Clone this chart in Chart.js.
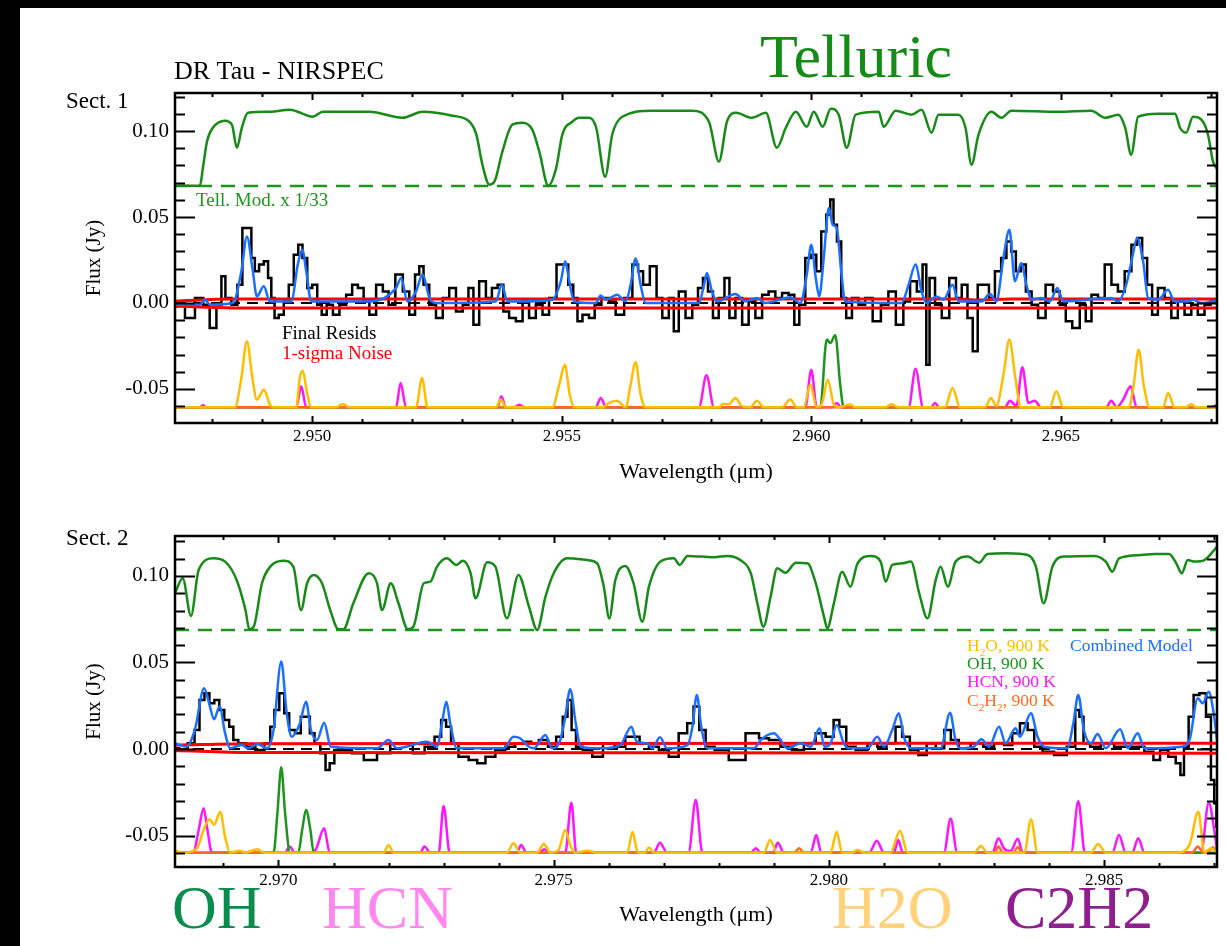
<!DOCTYPE html>
<html>
<head>
<meta charset="utf-8">
<script src="https://cdn.jsdelivr.net/npm/chart.js@4.4.1/dist/chart.umd.min.js"></script>
<style>
html, body { margin: 0; padding: 0; background: #fff; }
body { width: 1226px; height: 946px; position: relative; overflow: hidden; }
canvas { position: absolute; left: 0; }
#c1 { top: 0; }
#c2 { top: 500px; }
#barL { position: absolute; left: 0; top: 0; width: 20px; height: 946px; background: #000; }
#barT { position: absolute; left: 0; top: 0; width: 1226px; height: 8px; background: #000; }
</style>
</head>
<body>
<canvas id="c1" width="1226" height="500"></canvas>
<canvas id="c2" width="1226" height="446"></canvas>
<div id="barL"></div>
<div id="barT"></div>
<script>
// ---- Sect. 1 (pairs of [wavelength um, flux Jy]) ----
var tell1 = [[2.94725,0.0682],[2.94775,0.0682],[2.94781,0.0787],[2.94789,0.0938],[2.94801,0.1019],[2.94825,0.1060],[2.94839,0.1037],[2.94849,0.0903],[2.94859,0.1019],[2.94871,0.1106],[2.94915,0.1112],[2.94955,0.1124],[2.95001,0.1083],[2.95021,0.1112],[2.95115,0.1112],[2.95181,0.1077],[2.95221,0.1112],[2.95281,0.1089],[2.95315,0.1054],[2.95329,0.0978],[2.95341,0.0804],[2.95355,0.0688],[2.95365,0.0705],[2.95381,0.0880],[2.95401,0.1037],[2.95421,0.1048],[2.95441,0.1008],[2.95455,0.0880],[2.95473,0.0682],[2.95489,0.0787],[2.95501,0.0978],[2.95521,0.1054],[2.95535,0.1077],[2.95555,0.1077],[2.95569,0.1019],[2.95587,0.0734],[2.95601,0.0978],[2.95621,0.1083],[2.95681,0.1118],[2.95761,0.1118],[2.95795,0.1054],[2.95815,0.0822],[2.95831,0.1054],[2.95849,0.1106],[2.95881,0.1077],[2.95909,0.1106],[2.95931,0.0903],[2.95949,0.1019],[2.95969,0.1112],[2.95991,0.1025],[2.96005,0.1112],[2.96023,0.1025],[2.96039,0.1130],[2.96055,0.1095],[2.96071,0.0903],[2.96089,0.1095],[2.96135,0.1112],[2.96145,0.1025],[2.96169,0.1118],[2.96201,0.1095],[2.96221,0.1124],[2.96241,0.0990],[2.96255,0.1095],[2.96295,0.1095],[2.96309,0.1019],[2.96321,0.0804],[2.96335,0.0978],[2.96361,0.1112],[2.96381,0.1077],[2.96401,0.1118],[2.96495,0.1112],[2.96561,0.1118],[2.96589,0.1077],[2.96615,0.1095],[2.96629,0.1019],[2.96641,0.0862],[2.96655,0.1083],[2.96695,0.1101],[2.96729,0.1101],[2.96739,0.1019],[2.96751,0.0990],[2.96765,0.1083],[2.96785,0.1054],[2.96795,0.0978],[2.96805,0.0822],[2.96813,0.0780]];

var data1 = [[2.94725,-0.0020],[2.94735,-0.0010],[2.94755,-0.0087],[2.94775,0.0029],[2.94788,-0.0010],[2.94801,-0.0145],[2.94815,-0.0010],[2.94821,0.0155],[2.94831,0.0029],[2.94845,-0.0010],[2.94855,0.0106],[2.94865,0.0436],[2.94875,0.0436],[2.94881,0.0262],[2.94889,0.0184],[2.94898,0.0223],[2.94908,0.0242],[2.94915,0.0145],[2.94921,0.0029],[2.94928,-0.0087],[2.94938,-0.0068],[2.94948,0.0009],[2.94958,0.0106],[2.94968,0.0281],[2.94976,0.0339],[2.94985,0.0262],[2.94995,0.0087],[2.95005,0.0106],[2.95015,-0.0010],[2.95023,-0.0068],[2.95035,-0.0010],[2.95048,-0.0068],[2.95061,-0.0010],[2.95075,0.0048],[2.95085,0.0106],[2.95098,0.0087],[2.95108,0.0009],[2.95121,-0.0068],[2.95135,0.0106],[2.95148,0.0067],[2.95158,-0.0010],[2.95175,0.0165],[2.95188,0.0067],[2.95201,-0.0068],[2.95211,0.0165],[2.95218,0.0213],[2.95228,0.0106],[2.95241,-0.0010],[2.95255,-0.0087],[2.95268,0.0029],[2.95281,0.0087],[2.95295,-0.0049],[2.95308,-0.0010],[2.95318,0.0087],[2.95328,-0.0126],[2.95341,0.0126],[2.95355,0.0029],[2.95365,0.0087],[2.95378,0.0106],[2.95388,-0.0049],[2.95401,-0.0087],[2.95415,-0.0107],[2.95428,0.0009],[2.95441,-0.0087],[2.95455,-0.0010],[2.95468,-0.0068],[2.95481,0.0029],[2.95498,0.0223],[2.95508,0.0223],[2.95518,0.0106],[2.95528,0.0029],[2.95535,-0.0107],[2.95548,-0.0068],[2.95561,-0.0087],[2.95571,-0.0010],[2.95588,0.0029],[2.95601,0.0009],[2.95615,-0.0068],[2.95635,0.0029],[2.95648,0.0223],[2.95658,0.0184],[2.95668,0.0106],[2.95685,0.0213],[2.95695,0.0029],[2.95708,-0.0087],[2.95721,0.0029],[2.95728,-0.0165],[2.95741,0.0067],[2.95755,-0.0087],[2.95768,-0.0010],[2.95778,0.0087],[2.95788,0.0145],[2.95798,0.0067],[2.95808,-0.0087],[2.95821,0.0029],[2.95831,0.0145],[2.95841,-0.0087],[2.95855,0.0029],[2.95868,-0.0126],[2.95881,0.0009],[2.95895,-0.0087],[2.95908,0.0048],[2.95921,0.0067],[2.95935,0.0029],[2.95948,0.0058],[2.95961,0.0048],[2.95971,-0.0126],[2.95981,-0.0010],[2.95995,0.0262],[2.96005,0.0281],[2.96015,0.0184],[2.96025,0.0416],[2.96035,0.0513],[2.96041,0.0601],[2.96048,0.0455],[2.96055,0.0358],[2.96065,0.0029],[2.96075,-0.0087],[2.96088,0.0029],[2.96101,-0.0010],[2.96115,0.0029],[2.96131,-0.0107],[2.96148,-0.0010],[2.96161,0.0067],[2.96178,-0.0126],[2.96191,0.0009],[2.96205,0.0126],[2.96218,0.0067],[2.96228,0.0223],[2.96233,-0.0359],[2.96241,0.0145],[2.96255,-0.0010],[2.96268,-0.0087],[2.96285,0.0145],[2.96295,0.0029],[2.96308,0.0106],[2.96318,-0.0087],[2.96329,-0.0281],[2.96338,0.0106],[2.96351,0.0106],[2.96361,0.0029],[2.96375,0.0184],[2.96386,0.0262],[2.96396,0.0358],[2.96405,0.0300],[2.96415,0.0184],[2.96425,0.0223],[2.96435,0.0067],[2.96448,-0.0010],[2.96461,-0.0087],[2.96478,0.0106],[2.96491,0.0067],[2.96505,-0.0010],[2.96515,-0.0107],[2.96531,-0.0145],[2.96545,-0.0010],[2.96555,-0.0107],[2.96568,0.0048],[2.96581,0.0029],[2.96595,0.0223],[2.96608,0.0106],[2.96621,0.0067],[2.96635,0.0184],[2.96648,0.0339],[2.96658,0.0378],[2.96668,0.0262],[2.96678,0.0106],[2.96688,-0.0068],[2.96701,0.0087],[2.96715,0.0029],[2.96728,-0.0087],[2.96741,0.0009],[2.96755,-0.0068],[2.96768,-0.0010],[2.96781,-0.0068],[2.96795,-0.0010],[2.96805,0.0009],[2.96813,0.0009]];

var model1 = [[2.94725,-0.0010],[2.94775,-0.0010],[2.94785,0.0019],[2.94795,-0.0010],[2.94841,0.0000],[2.94858,0.0184],[2.94869,0.0387],[2.94881,0.0184],[2.94889,0.0038],[2.94903,0.0097],[2.94915,0.0009],[2.94958,0.0009],[2.94971,0.0223],[2.94980,0.0310],[2.94988,0.0184],[2.94998,0.0009],[2.95115,0.0009],[2.95168,0.0087],[2.95178,0.0145],[2.95191,0.0009],[2.95208,0.0067],[2.95221,0.0165],[2.95235,0.0029],[2.95248,0.0000],[2.95368,0.0009],[2.95380,0.0106],[2.95391,0.0009],[2.95421,0.0009],[2.95481,0.0019],[2.95498,0.0126],[2.95507,0.0242],[2.95515,0.0126],[2.95525,0.0009],[2.95568,0.0000],[2.95578,0.0044],[2.95588,0.0019],[2.95611,0.0048],[2.95628,0.0009],[2.95638,0.0106],[2.95648,0.0258],[2.95658,0.0106],[2.95668,0.0000],[2.95775,0.0000],[2.95785,0.0106],[2.95791,0.0174],[2.95801,0.0067],[2.95811,0.0009],[2.95848,0.0052],[2.95868,0.0009],[2.95891,0.0029],[2.95908,0.0000],[2.95958,0.0033],[2.95978,0.0000],[2.95991,0.0165],[2.96000,0.0339],[2.96009,0.0145],[2.96016,0.0038],[2.96025,0.0262],[2.96035,0.0552],[2.96043,0.0455],[2.96051,0.0436],[2.96060,0.0184],[2.96068,0.0009],[2.96181,0.0000],[2.96195,0.0106],[2.96209,0.0223],[2.96221,0.0067],[2.96231,0.0000],[2.96251,0.0038],[2.96265,0.0019],[2.96283,0.0106],[2.96295,0.0009],[2.96341,0.0009],[2.96358,0.0052],[2.96371,0.0009],[2.96385,0.0262],[2.96397,0.0426],[2.96408,0.0126],[2.96421,0.0233],[2.96431,0.0106],[2.96441,0.0019],[2.96461,0.0029],[2.96478,0.0009],[2.96493,0.0087],[2.96505,0.0009],[2.96601,0.0029],[2.96615,0.0009],[2.96631,0.0106],[2.96643,0.0262],[2.96653,0.0378],[2.96665,0.0242],[2.96675,0.0029],[2.96695,0.0019],[2.96715,0.0077],[2.96728,0.0009],[2.96755,0.0009],[2.96765,0.0019],[2.96781,0.0000],[2.96813,0.0013]];

var noiseHi1 = [[2.94725,0.0010],[2.94840,0.0023],[2.96300,0.0023],[2.96330,0.0017],[2.96400,0.0023],[2.96813,0.0023]];
var noiseLo1 = [[2.94725,-0.0018],[2.94840,-0.0029],[2.96300,-0.0029],[2.96813,-0.0029]];

var h2o1 = [[2.94725,-0.0607],[2.94845,-0.0607],[2.94858,-0.0436],[2.94869,-0.0223],[2.94880,-0.0436],[2.94889,-0.0562],[2.94903,-0.0504],[2.94915,-0.0589],[2.94921,-0.0607],[2.94968,-0.0607],[2.94975,-0.0436],[2.94981,-0.0394],[2.94989,-0.0514],[2.94998,-0.0607],[2.95048,-0.0607],[2.95061,-0.0587],[2.95075,-0.0607],[2.95208,-0.0607],[2.95220,-0.0436],[2.95231,-0.0607],[2.95368,-0.0607],[2.95378,-0.0562],[2.95388,-0.0607],[2.95481,-0.0607],[2.95495,-0.0475],[2.95506,-0.0359],[2.95516,-0.0533],[2.95525,-0.0607],[2.95581,-0.0607],[2.95595,-0.0581],[2.95611,-0.0568],[2.95628,-0.0607],[2.95638,-0.0475],[2.95648,-0.0345],[2.95658,-0.0533],[2.95668,-0.0607],[2.95815,-0.0607],[2.95823,-0.0587],[2.95835,-0.0589],[2.95848,-0.0552],[2.95861,-0.0600],[2.95878,-0.0607],[2.95891,-0.0568],[2.95905,-0.0607],[2.95941,-0.0607],[2.95958,-0.0562],[2.95971,-0.0607],[2.95985,-0.0607],[2.95998,-0.0475],[2.96011,-0.0607],[2.96021,-0.0589],[2.96033,-0.0446],[2.96045,-0.0589],[2.96055,-0.0607],[2.96078,-0.0589],[2.96088,-0.0607],[2.96148,-0.0607],[2.96161,-0.0589],[2.96174,-0.0607],[2.96268,-0.0607],[2.96283,-0.0494],[2.96298,-0.0607],[2.96348,-0.0607],[2.96360,-0.0552],[2.96371,-0.0600],[2.96385,-0.0417],[2.96397,-0.0213],[2.96408,-0.0417],[2.96420,-0.0607],[2.96478,-0.0607],[2.96491,-0.0514],[2.96505,-0.0607],[2.96636,-0.0607],[2.96646,-0.0475],[2.96656,-0.0272],[2.96666,-0.0475],[2.96678,-0.0607],[2.96705,-0.0607],[2.96715,-0.0523],[2.96728,-0.0607],[2.96750,-0.0607],[2.96761,-0.0589],[2.96772,-0.0607],[2.96813,-0.0607]];
var oh1 = [[2.94725,-0.0607],[2.96018,-0.0607],[2.96031,-0.0213],[2.96038,-0.0233],[2.96048,-0.0188],[2.96058,-0.0475],[2.96065,-0.0607],[2.96813,-0.0607]];
var hcn1 = [[2.94725,-0.0607],[2.94775,-0.0607],[2.94781,-0.0595],[2.94788,-0.0607],[2.94968,-0.0607],[2.94978,-0.0485],[2.94988,-0.0607],[2.95168,-0.0607],[2.95177,-0.0465],[2.95188,-0.0607],[2.95371,-0.0607],[2.95379,-0.0543],[2.95388,-0.0607],[2.95405,-0.0607],[2.95415,-0.0592],[2.95425,-0.0607],[2.95568,-0.0607],[2.95578,-0.0552],[2.95589,-0.0607],[2.95775,-0.0607],[2.95790,-0.0421],[2.95805,-0.0607],[2.95988,-0.0607],[2.96000,-0.0388],[2.96011,-0.0607],[2.96043,-0.0607],[2.96051,-0.0581],[2.96060,-0.0607],[2.96195,-0.0607],[2.96209,-0.0382],[2.96224,-0.0607],[2.96240,-0.0607],[2.96248,-0.0581],[2.96256,-0.0607],[2.96388,-0.0607],[2.96398,-0.0568],[2.96411,-0.0600],[2.96423,-0.0374],[2.96435,-0.0581],[2.96448,-0.0568],[2.96460,-0.0607],[2.96591,-0.0607],[2.96601,-0.0568],[2.96612,-0.0607],[2.96625,-0.0562],[2.96640,-0.0485],[2.96652,-0.0607],[2.96800,-0.0607],[2.96813,-0.0592]];
var c2h21 = [[2.94725,-0.0607],[2.96813,-0.0607]];

// ---- Sect. 2 ----
var tell2 = [[2.96812,0.0900],[2.96826,0.0987],[2.96841,0.0769],[2.96855,0.1035],[2.96882,0.1102],[2.96903,0.1083],[2.96924,0.0977],[2.96940,0.0803],[2.96947,0.0692],[2.96955,0.0707],[2.96970,0.0958],[2.96985,0.1054],[2.97009,0.1088],[2.97027,0.1054],[2.97041,0.0803],[2.97052,0.0958],[2.97064,0.1006],[2.97079,0.0958],[2.97094,0.0803],[2.97109,0.0692],[2.97118,0.0692],[2.97136,0.0842],[2.97164,0.1016],[2.97179,0.0958],[2.97188,0.0803],[2.97204,0.0958],[2.97218,0.0842],[2.97235,0.0692],[2.97245,0.0707],[2.97264,0.0958],[2.97276,0.0967],[2.97288,0.1054],[2.97306,0.1102],[2.97323,0.1064],[2.97335,0.1088],[2.97349,0.1016],[2.97358,0.0871],[2.97379,0.1079],[2.97394,0.1054],[2.97415,0.0755],[2.97436,0.1006],[2.97455,0.0823],[2.97470,0.0688],[2.97485,0.0880],[2.97500,0.1016],[2.97524,0.1102],[2.97561,0.1092],[2.97579,0.1073],[2.97591,0.0938],[2.97601,0.0755],[2.97612,0.0977],[2.97630,0.1058],[2.97645,0.0958],[2.97661,0.0736],[2.97673,0.0938],[2.97694,0.1083],[2.97718,0.1102],[2.97729,0.1064],[2.97743,0.1116],[2.97791,0.1108],[2.97815,0.1116],[2.97839,0.1092],[2.97858,0.1016],[2.97870,0.0842],[2.97881,0.0707],[2.97894,0.0880],[2.97906,0.1045],[2.97921,0.1019],[2.97940,0.1077],[2.97961,0.1073],[2.97976,0.0958],[2.97991,0.0765],[2.97997,0.0698],[2.98009,0.0842],[2.98024,0.1025],[2.98039,0.0938],[2.98052,0.1073],[2.98076,0.1116],[2.98094,0.1083],[2.98103,0.0967],[2.98115,0.1064],[2.98133,0.1073],[2.98149,0.1083],[2.98164,0.0900],[2.98179,0.0755],[2.98194,0.0977],[2.98203,0.1054],[2.98216,0.0938],[2.98230,0.1083],[2.98252,0.1112],[2.98273,0.1077],[2.98288,0.1127],[2.98324,0.1131],[2.98361,0.1121],[2.98376,0.1054],[2.98390,0.0842],[2.98406,0.1054],[2.98427,0.1112],[2.98482,0.1116],[2.98503,0.1083],[2.98515,0.1025],[2.98527,0.1102],[2.98567,0.1121],[2.98591,0.1127],[2.98618,0.1127],[2.98631,0.1073],[2.98641,0.1016],[2.98652,0.1092],[2.98664,0.1083],[2.98682,0.1092],[2.98700,0.1150],[2.98705,0.1169]];

var data2 = [[2.96812,0.0004],[2.96827,-0.0006],[2.96843,0.0033],[2.96852,0.0110],[2.96861,0.0283],[2.96870,0.0322],[2.96879,0.0264],[2.96888,0.0283],[2.96897,0.0225],[2.96906,0.0168],[2.96915,0.0129],[2.96921,0.0052],[2.96933,0.0033],[2.96949,0.0013],[2.96967,-0.0006],[2.96982,0.0033],[2.96988,0.0129],[2.96997,0.0225],[2.97006,0.0322],[2.97015,0.0206],[2.97024,0.0110],[2.97036,0.0091],[2.97045,0.0187],[2.97053,0.0187],[2.97061,0.0091],[2.97070,0.0033],[2.97082,-0.0025],[2.97089,-0.0121],[2.97097,-0.0083],[2.97106,-0.0006],[2.97124,-0.0006],[2.97143,-0.0025],[2.97167,-0.0064],[2.97191,-0.0025],[2.97215,0.0033],[2.97233,0.0033],[2.97255,-0.0025],[2.97276,0.0013],[2.97291,0.0071],[2.97300,0.0168],[2.97309,0.0129],[2.97318,0.0033],[2.97336,-0.0045],[2.97355,-0.0064],[2.97367,-0.0083],[2.97385,-0.0045],[2.97403,-0.0006],[2.97421,0.0013],[2.97439,0.0033],[2.97454,0.0042],[2.97464,0.0033],[2.97482,0.0052],[2.97497,0.0013],[2.97512,0.0071],[2.97521,0.0187],[2.97529,0.0283],[2.97536,0.0110],[2.97545,0.0013],[2.97561,-0.0006],[2.97579,-0.0045],[2.97600,0.0033],[2.97621,0.0013],[2.97639,0.0071],[2.97648,0.0071],[2.97664,0.0033],[2.97682,0.0013],[2.97700,-0.0006],[2.97718,-0.0045],[2.97736,0.0091],[2.97749,0.0149],[2.97759,0.0245],[2.97770,0.0110],[2.97782,0.0013],[2.97803,-0.0006],[2.97833,-0.0064],[2.97864,0.0091],[2.97882,0.0062],[2.97900,0.0052],[2.97924,0.0013],[2.97942,-0.0006],[2.97967,0.0033],[2.97985,0.0091],[2.98003,0.0071],[2.98014,0.0168],[2.98024,0.0129],[2.98039,0.0013],[2.98058,-0.0006],[2.98082,0.0033],[2.98094,0.0013],[2.98115,0.0033],[2.98127,0.0129],[2.98139,0.0071],[2.98155,-0.0006],[2.98170,-0.0035],[2.98185,0.0033],[2.98203,0.0004],[2.98216,0.0110],[2.98227,0.0052],[2.98245,0.0004],[2.98270,0.0033],[2.98291,0.0013],[2.98309,0.0033],[2.98327,0.0023],[2.98339,0.0091],[2.98355,0.0149],[2.98367,0.0110],[2.98379,0.0013],[2.98397,-0.0016],[2.98421,-0.0035],[2.98443,0.0013],[2.98452,0.0225],[2.98458,0.0187],[2.98467,0.0033],[2.98482,0.0013],[2.98506,0.0033],[2.98530,0.0013],[2.98561,0.0013],[2.98585,-0.0016],[2.98594,-0.0064],[2.98609,-0.0006],[2.98624,-0.0045],[2.98636,-0.0083],[2.98641,-0.0150],[2.98649,0.0013],[2.98658,0.0187],[2.98667,0.0312],[2.98679,0.0322],[2.98691,0.0187],[2.98697,-0.0179],[2.98703,-0.0314],[2.98705,-0.0450]];

var model2 = [[2.96812,0.0033],[2.96833,0.0013],[2.96848,0.0110],[2.96865,0.0351],[2.96874,0.0264],[2.96883,0.0172],[2.96893,0.0245],[2.96903,0.0091],[2.96912,0.0004],[2.96933,0.0023],[2.96945,0.0004],[2.96962,0.0029],[2.96979,0.0004],[2.96991,0.0110],[2.97005,0.0505],[2.97015,0.0206],[2.97024,0.0071],[2.97039,0.0149],[2.97050,0.0273],[2.97059,0.0110],[2.97070,0.0052],[2.97083,0.0152],[2.97095,0.0013],[2.97179,0.0004],[2.97200,0.0052],[2.97215,0.0004],[2.97270,0.0042],[2.97288,0.0013],[2.97297,0.0149],[2.97305,0.0273],[2.97312,0.0149],[2.97324,0.0004],[2.97409,0.0004],[2.97427,0.0071],[2.97439,0.0062],[2.97455,0.0013],[2.97464,0.0004],[2.97485,0.0081],[2.97497,0.0004],[2.97512,0.0052],[2.97521,0.0187],[2.97530,0.0345],[2.97540,0.0149],[2.97549,0.0013],[2.97585,0.0004],[2.97621,0.0023],[2.97641,0.0129],[2.97651,0.0042],[2.97670,0.0033],[2.97679,0.0004],[2.97693,0.0068],[2.97706,0.0004],[2.97743,0.0023],[2.97752,0.0129],[2.97760,0.0312],[2.97768,0.0129],[2.97779,0.0004],[2.97864,0.0004],[2.97876,0.0052],[2.97900,0.0091],[2.97912,0.0052],[2.97924,0.0004],[2.97949,0.0033],[2.97967,0.0013],[2.97983,0.0120],[2.97992,0.0013],[2.98003,0.0033],[2.98014,0.0139],[2.98027,0.0033],[2.98036,0.0004],[2.98070,0.0004],[2.98088,0.0071],[2.98100,0.0013],[2.98115,0.0110],[2.98127,0.0206],[2.98136,0.0071],[2.98149,0.0004],[2.98203,0.0004],[2.98220,0.0210],[2.98230,0.0052],[2.98239,0.0004],[2.98263,0.0013],[2.98277,0.0056],[2.98291,0.0013],[2.98309,0.0129],[2.98321,0.0033],[2.98339,0.0120],[2.98347,0.0071],[2.98367,0.0206],[2.98379,0.0071],[2.98391,0.0013],[2.98433,0.0004],[2.98444,0.0149],[2.98453,0.0312],[2.98463,0.0110],[2.98476,0.0033],[2.98488,0.0087],[2.98503,0.0004],[2.98529,0.0114],[2.98543,0.0004],[2.98561,0.0091],[2.98573,0.0004],[2.98640,0.0013],[2.98655,0.0052],[2.98670,0.0293],[2.98679,0.0264],[2.98690,0.0331],[2.98699,0.0206],[2.98705,0.0052]];

var noiseHi2 = [[2.96812,0.0023],[2.96950,0.0031],[2.98705,0.0033]];
var noiseLo2 = [[2.96812,-0.0008],[2.96950,-0.0020],[2.98705,-0.0024]];

var h2o2 = [[2.96812,-0.0588],[2.96827,-0.0599],[2.96852,-0.0574],[2.96864,-0.0468],[2.96875,-0.0406],[2.96883,-0.0439],[2.96894,-0.0362],[2.96903,-0.0507],[2.96912,-0.0599],[2.96930,-0.0588],[2.96939,-0.0599],[2.96962,-0.0580],[2.96973,-0.0599],[2.97191,-0.0599],[2.97200,-0.0555],[2.97209,-0.0599],[2.97415,-0.0599],[2.97427,-0.0545],[2.97439,-0.0599],[2.97470,-0.0599],[2.97482,-0.0549],[2.97494,-0.0599],[2.97509,-0.0583],[2.97521,-0.0468],[2.97530,-0.0555],[2.97539,-0.0599],[2.97561,-0.0588],[2.97580,-0.0599],[2.97634,-0.0599],[2.97643,-0.0478],[2.97653,-0.0599],[2.97665,-0.0599],[2.97673,-0.0570],[2.97682,-0.0599],[2.97882,-0.0599],[2.97893,-0.0526],[2.97906,-0.0599],[2.98003,-0.0599],[2.98014,-0.0478],[2.98024,-0.0599],[2.98042,-0.0599],[2.98052,-0.0583],[2.98064,-0.0599],[2.98112,-0.0599],[2.98129,-0.0472],[2.98143,-0.0599],[2.98264,-0.0599],[2.98276,-0.0561],[2.98288,-0.0599],[2.98355,-0.0599],[2.98367,-0.0406],[2.98379,-0.0599],[2.98476,-0.0599],[2.98489,-0.0549],[2.98503,-0.0599],[2.98633,-0.0599],[2.98655,-0.0555],[2.98671,-0.0362],[2.98682,-0.0599],[2.98694,-0.0574],[2.98705,-0.0599]];
var oh2 = [[2.96812,-0.0599],[2.96991,-0.0599],[2.96998,-0.0372],[2.97005,-0.0106],[2.97012,-0.0372],[2.97021,-0.0599],[2.97036,-0.0599],[2.97043,-0.0468],[2.97050,-0.0353],[2.97058,-0.0468],[2.97064,-0.0599],[2.98705,-0.0599]];
var hcn2 = [[2.96812,-0.0599],[2.96845,-0.0599],[2.96855,-0.0468],[2.96864,-0.0343],[2.96871,-0.0468],[2.96879,-0.0599],[2.97012,-0.0599],[2.97020,-0.0564],[2.97030,-0.0599],[2.97060,-0.0599],[2.97068,-0.0580],[2.97083,-0.0458],[2.97093,-0.0599],[2.97258,-0.0599],[2.97265,-0.0564],[2.97276,-0.0599],[2.97291,-0.0599],[2.97300,-0.0329],[2.97311,-0.0599],[2.97433,-0.0599],[2.97441,-0.0555],[2.97450,-0.0599],[2.97474,-0.0599],[2.97483,-0.0580],[2.97491,-0.0599],[2.97521,-0.0599],[2.97532,-0.0310],[2.97541,-0.0599],[2.97682,-0.0599],[2.97693,-0.0542],[2.97706,-0.0599],[2.97745,-0.0599],[2.97758,-0.0295],[2.97770,-0.0599],[2.97858,-0.0599],[2.97867,-0.0574],[2.97876,-0.0599],[2.97899,-0.0599],[2.97907,-0.0542],[2.97918,-0.0599],[2.97967,-0.0599],[2.97977,-0.0497],[2.97986,-0.0599],[2.98073,-0.0599],[2.98087,-0.0530],[2.98100,-0.0599],[2.98118,-0.0599],[2.98126,-0.0526],[2.98134,-0.0599],[2.98209,-0.0599],[2.98221,-0.0401],[2.98233,-0.0599],[2.98297,-0.0599],[2.98308,-0.0516],[2.98318,-0.0574],[2.98330,-0.0590],[2.98343,-0.0519],[2.98352,-0.0599],[2.98440,-0.0599],[2.98453,-0.0302],[2.98465,-0.0599],[2.98515,-0.0599],[2.98527,-0.0497],[2.98539,-0.0599],[2.98551,-0.0599],[2.98562,-0.0516],[2.98573,-0.0599],[2.98676,-0.0599],[2.98690,-0.0310],[2.98700,-0.0468],[2.98705,-0.0588]];
var c2h22 = [[2.96812,-0.0599],[2.97937,-0.0599],[2.97946,-0.0574],[2.97955,-0.0599],[2.98300,-0.0599],[2.98308,-0.0564],[2.98316,-0.0599],[2.98335,-0.0599],[2.98343,-0.0566],[2.98351,-0.0599],[2.98660,-0.0599],[2.98670,-0.0564],[2.98680,-0.0599],[2.98690,-0.0590],[2.98697,-0.0568],[2.98705,-0.0599]];

// axis limits and reference levels
var xRange1 = [2.94725, 2.96813];
var yRange1 = [-0.0698, 0.1221];
var xRange2 = [2.96812, 2.98705];
var yRange2 = [-0.0682, 0.1231];
var tellLevel1 = 0.0680;
var tellLevel2 = 0.0688;

var SERIF = '"Liberation Serif", "Times New Roman", serif';
Chart.defaults.font.family = SERIF;
Chart.defaults.color = '#000';

function pts(a) {
  return a.map(function (p) { return { x: p[0], y: p[1] }; });
}

function line(arr, color, width, order, extra) {
  return Object.assign({
    data: pts(arr),
    borderColor: color,
    borderWidth: width,
    pointRadius: 0,
    fill: false,
    order: order,
    cubicInterpolationMode: 'monotone'
  }, extra || {});
}

// inward ticks on all four sides plus the box
var frameTicks = {
  id: 'frameTicks',
  afterDatasetsDraw: function (chart) {
    var ctx = chart.ctx, a = chart.chartArea, x = chart.scales.x, y = chart.scales.y;
    ctx.save();
    ctx.strokeStyle = '#000';
    ctx.lineWidth = 2;
    ctx.beginPath();
    x.ticks.forEach(function (t) {
      if (t.value < x.min || t.value > x.max) return;
      var px = Math.round(x.getPixelForValue(t.value)) + 0.5;
      var len = Math.round(t.value * 1000) % 5 === 0 ? 7 : 4;
      ctx.moveTo(px, a.bottom); ctx.lineTo(px, a.bottom - len);
      ctx.moveTo(px, a.top); ctx.lineTo(px, a.top + len);
    });
    y.ticks.forEach(function (t) {
      if (t.value < y.min || t.value > y.max) return;
      var py = Math.round(y.getPixelForValue(t.value)) + 0.5;
      var len = Math.round(t.value * 100) % 5 === 0 ? 20 : 10;
      ctx.moveTo(a.left, py); ctx.lineTo(a.left + len, py);
      ctx.moveTo(a.right, py); ctx.lineTo(a.right - len, py);
    });
    ctx.stroke();
    ctx.lineWidth = 2.5;
    ctx.strokeRect(a.left, a.top, a.right - a.left, a.bottom - a.top);
    ctx.restore();
  }
};

// free text, segments may be subscripts
function textPlugin(items) {
  return {
    id: 'texts',
    afterDraw: function (chart) {
      var ctx = chart.ctx;
      ctx.save();
      ctx.textBaseline = 'alphabetic';
      items.forEach(function (it) {
        var segs = typeof it.text === 'string' ? [{ t: it.text }] : it.text;
        var total = 0;
        segs.forEach(function (s) {
          ctx.font = (s.sub ? it.size * 0.65 : it.size) + 'px ' + SERIF;
          total += ctx.measureText(s.t).width;
        });
        var cx = it.align === 'center' ? it.x - total / 2 : it.x;
        ctx.fillStyle = it.color || '#000';
        segs.forEach(function (s) {
          ctx.font = (s.sub ? it.size * 0.65 : it.size) + 'px ' + SERIF;
          ctx.textAlign = 'left';
          ctx.fillText(s.t, cx, it.y + (s.sub ? it.size * 0.28 : 0));
          cx += ctx.measureText(s.t).width;
        });
      });
      ctx.restore();
    }
  };
}

function panel(id, o) {
  return new Chart(document.getElementById(id), {
    type: 'line',
    data: {
      datasets: [
        line(o.h2o, '#ffbd00', 2.5, 1),
        line(o.c2h2, '#ff6a1c', 2.5, 2),
        line(o.oh, '#1c961c', 2.5, 3),
        line(o.hcn, '#ff14ff', 2.5, 4),
        line(o.model, '#1a6fff', 2.5, 5),
        line(o.noiseHi, '#ff0000', 3, 6),
        line(o.noiseLo, '#ff0000', 3, 6),
        line(o.data, '#000000', 2.5, 7, { stepped: 'middle' }),
        line([[o.xr[0], 0], [o.xr[1], 0]], '#000000', 2, 8, { borderDash: [11, 7] }),
        line(o.tell, '#178a17', 2.5, 9),
        line([[o.xr[0], o.tellLevel], [o.xr[1], o.tellLevel]], '#1c961c', 2.5, 10, { borderDash: [14, 9] })
      ]
    },
    options: {
      responsive: false,
      animation: false,
      events: [],
      layout: { padding: { left: 0, right: 9, top: o.padTop, bottom: 0 } },
      plugins: { legend: { display: false }, tooltip: { enabled: false } },
      scales: {
        x: {
          type: 'linear',
          min: o.xr[0], max: o.xr[1],
          grid: { display: false, drawTicks: false },
          border: { display: false },
          ticks: {
            stepSize: 0.001, autoSkip: false, maxRotation: 0, includeBounds: false,
            padding: 3, font: { size: 17 }, color: '#000',
            callback: function (v) { return Math.round(v * 1000) % 5 === 0 ? v.toFixed(3) : ''; }
          },
          title: { display: true, text: 'Wavelength (\u03bcm)', font: { size: 22 }, color: '#000', padding: { top: 0, bottom: o.xTitlePad } },
          afterFit: function (s) { s.height = o.xH; }
        },
        y: {
          min: o.yr[0], max: o.yr[1],
          grid: { display: false, drawTicks: false },
          border: { display: false },
          ticks: {
            stepSize: 0.01, autoSkip: false, includeBounds: false, padding: 6, font: { size: 21 }, color: '#000',
            callback: function (v) {
              if (Math.round(v * 100) % 5 !== 0) return '';
              return Math.abs(v) < 1e-9 ? '0.00' : v.toFixed(2);
            }
          },
          title: { display: true, text: 'Flux (Jy)', font: { size: 21 }, color: '#000', padding: { top: 82, bottom: 0 } },
          afterFit: function (s) { s.width = 175; }
        }
      }
    },
    plugins: [frameTicks, textPlugin(o.texts)]
  });
}

panel('c1', {
  tell: tell1, data: data1, model: model1, noiseHi: noiseHi1, noiseLo: noiseLo1,
  h2o: h2o1, oh: oh1, hcn: hcn1, c2h2: c2h21,
  xr: xRange1, yr: yRange1, tellLevel: tellLevel1,
  padTop: 93, xH: 77, xTitlePad: 15,
  texts: [
    { text: 'DR Tau - NIRSPEC', x: 174, y: 79, size: 26 },
    { text: 'Telluric', x: 856, y: 77, size: 62, color: '#168a16', align: 'center' },
    { text: 'Sect. 1', x: 66, y: 108, size: 23 },
    { text: 'Tell. Mod. x 1/33', x: 196, y: 206, size: 19, color: '#1c961c' },
    { text: 'Final Resids', x: 282, y: 339, size: 19, color: '#000' },
    { text: '1-sigma Noise', x: 282, y: 359, size: 19, color: '#ff0000' }
  ]
});

panel('c2', {
  tell: tell2, data: data2, model: model2, noiseHi: noiseHi2, noiseLo: noiseLo2,
  h2o: h2o2, oh: oh2, hcn: hcn2, c2h2: c2h22,
  xr: xRange2, yr: yRange2, tellLevel: tellLevel2,
  padTop: 36, xH: 79, xTitlePad: 18,
  texts: [
    { text: 'Sect. 2', x: 66, y: 45, size: 23 },
    { text: [{ t: 'H' }, { t: '2', sub: true }, { t: 'O, 900 K' }], x: 967, y: 151, size: 17.5, color: '#ffbd00' },
    { text: 'Combined Model', x: 1070, y: 151, size: 17.5, color: '#1a6fff' },
    { text: 'OH, 900 K', x: 967, y: 169, size: 17.5, color: '#1c961c' },
    { text: 'HCN, 900 K', x: 967, y: 187, size: 17.5, color: '#ff14ff' },
    { text: [{ t: 'C' }, { t: '2', sub: true }, { t: 'H' }, { t: '2', sub: true }, { t: ', 900 K' }], x: 967, y: 206, size: 17.5, color: '#ff6a1c' },
    { text: 'OH', x: 172, y: 428, size: 62, color: '#0b8c4c' },
    { text: 'HCN', x: 322, y: 428, size: 62, color: '#ff88ee' },
    { text: 'H2O', x: 832, y: 428, size: 62, color: '#ffd27a' },
    { text: 'C2H2', x: 1005, y: 428, size: 62, color: '#8f1f8f' }
  ]
});
</script>
</body>
</html>
